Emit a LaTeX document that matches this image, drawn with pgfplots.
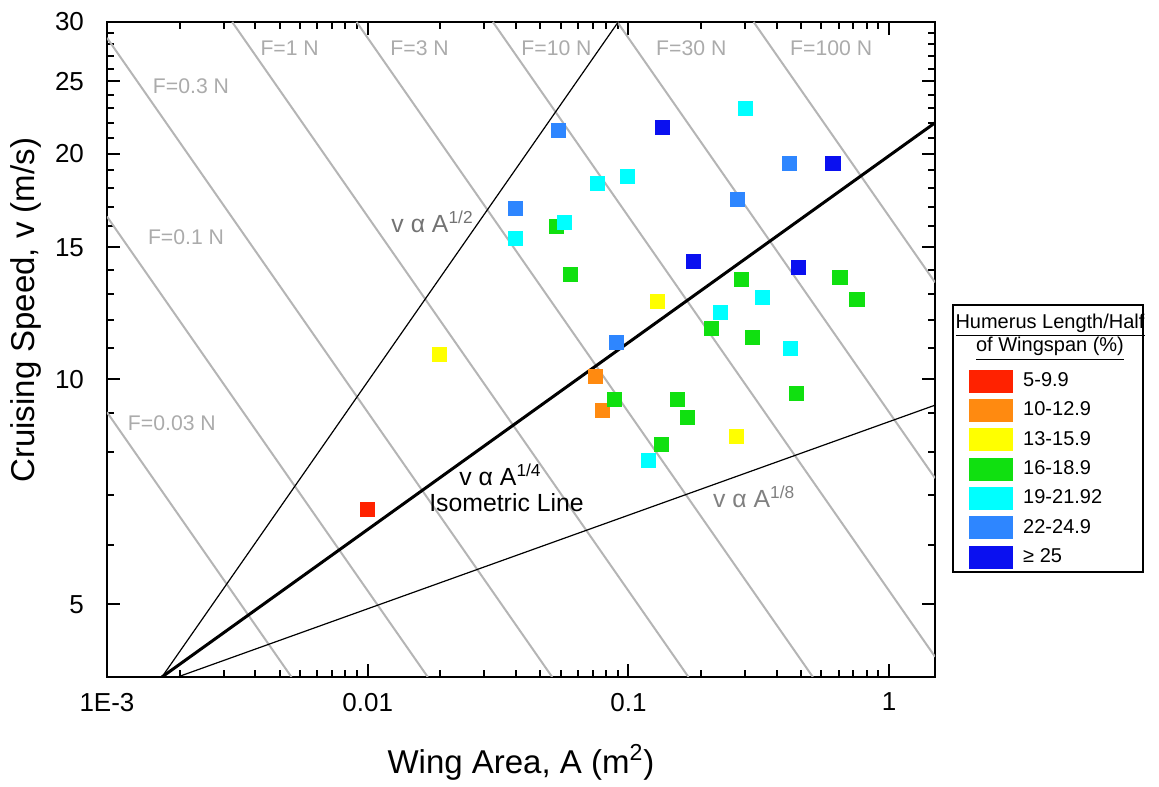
\documentclass[border=0pt]{standalone}
\usepackage{fontspec}
\setmainfont{Liberation Sans}
\usepackage{pgfplots}
\pgfplotsset{compat=1.18}
\definecolor{hred}{HTML}{FF2200}
\definecolor{horange}{HTML}{FF8A10}
\definecolor{hyellow}{HTML}{FFFF00}
\definecolor{hgreen}{HTML}{10E010}
\definecolor{hcyan}{HTML}{00FFFF}
\definecolor{hmblue}{HTML}{2E86FF}
\definecolor{hdblue}{HTML}{0A10F0}
\definecolor{fline}{HTML}{B5B5B5}
\definecolor{ftext}{HTML}{ABABAB}
\begin{document}
\begin{tikzpicture}
\begin{axis}[
  name=main,
  scale only axis, width=414pt, height=327.5pt,
  xmode=log, ymode=log,
  xmin=0.001, xmax=1.5, ymin=4, ymax=30,
  xtick={0.001,0.01,0.1,1}, xticklabels={1E-3,0.01,0.1,1},
  minor xtick={0.0019,0.0028,0.0037,0.0046,0.0055,0.0064,0.0073,0.0082,0.0091,
    0.019,0.028,0.037,0.046,0.055,0.064,0.073,0.082,0.091,
    0.19,0.28,0.37,0.46,0.55,0.64,0.73,0.82,0.91},
  ytick={5,10,15,20,25,30}, yticklabels={5,10,15,20,25,30},
  minor ytick={6,7,8,9,11,12,13,14,16,17,18,19,21,22,23,24,26,27,28,29},
  tick align=inside, major tick length=6.5pt, minor tick length=3.5pt,
  tick style={black, line width=1pt},
  axis line style={line width=1.2pt},
  ticklabel style={font=\fontsize{13}{15}\selectfont},
  xticklabel style={yshift=-4.5pt},
  yticklabel style={xshift=-8pt},
  clip mode=individual,
  legend cell align=left,
  legend image code/.code={\fill[#1] (0pt,-5.5pt) rectangle (21.5pt,5.5pt);},
  legend style={at={(1.0411,0.4748)}, anchor=north west, draw=none, fill=none,
    inner sep=0pt, row sep=0pt, column sep=0pt,
    /tikz/column 1/.style={column sep=5pt},
    font=\fontsize{10}{12}\selectfont,
    nodes={inner sep=0pt, minimum height=14.67pt}},
  sq/.style={only marks, mark=square*, mark size=3.55pt, color=#1},
]
% lines of constant force, v^2 A = 2.72 F
\addplot[fline, line width=1pt, forget plot] coordinates {(0.001,9.033)(0.0051,4)};
\addplot[fline, line width=1pt, forget plot] coordinates {(0.001,16.49)(0.017,4)};
\addplot[fline, line width=1pt, forget plot] coordinates {(0.001,28.57)(0.051,4)};
\addplot[fline, line width=1pt, forget plot] coordinates {(0.003022,30)(0.17,4)};
\addplot[fline, line width=1pt, forget plot] coordinates {(0.009067,30)(0.51,4)};
\addplot[fline, line width=1pt, forget plot] coordinates {(0.03022,30)(1.5,4.258)};
\addplot[fline, line width=1pt, forget plot] coordinates {(0.09067,30)(1.5,7.376)};
\addplot[fline, line width=1pt, forget plot] coordinates {(0.3022,30)(1.5,13.47)};
% scaling lines
\addplot[black, line width=0.6pt, forget plot] coordinates {(0.001625,4)(0.0914,30)};
\addplot[black, line width=1.5pt, forget plot] coordinates {(0.001625,4)(1.5,22.0)};
\addplot[black, line width=0.6pt, forget plot] coordinates {(0.001866,4)(1.5,9.23)};
% birds by humerus share of half wingspan
\addplot[sq=hred] coordinates {(0.01,6.70)};
\addlegendentry{5-9.9}
\addplot[sq=horange] coordinates {(0.0748,10.09)(0.0794,9.09)};
\addlegendentry{10-12.9}
\addplot[sq=hyellow] coordinates {(0.01888,10.80)(0.129,12.71)(0.2596,8.39)};
\addlegendentry{13-15.9}
\addplot[sq=hgreen] coordinates {(0.0530,16.0)(0.0600,13.81)(0.0883,9.40)(0.154,9.40)
  (0.168,8.89)(0.1336,8.18)(0.208,11.70)(0.271,13.60)(0.2985,11.38)(0.441,9.57)
  (0.648,13.68)(0.753,12.79)};
\addlegendentry{16-18.9}
\addplot[sq=hcyan] coordinates {(0.0369,15.43)(0.0569,16.2)(0.0760,18.28)(0.0991,18.67)
  (0.1194,7.79)(0.2249,12.29)(0.326,12.87)(0.418,11.0)(0.2805,23.0)};
\addlegendentry{19-21.92}
\addplot[sq=hmblue] coordinates {(0.0540,21.5)(0.0369,16.9)(0.0900,11.2)(0.262,17.4)(0.414,19.44)};
\addlegendentry{22-24.9}
\addplot[sq=hdblue] coordinates {(0.1349,21.7)(0.1774,14.38)(0.448,14.11)(0.609,19.44)};
\addlegendentry{≥ 25}
% labels
\begin{scope}[every node/.style={text=ftext, anchor=base, font=\fontsize{10.6}{12}\selectfont}]
\node at (axis cs:0.0021,24.1) {F=0.3 N};
\node at (axis cs:0.00502,27.1) {F=1 N};
\node at (axis cs:0.01582,27.1) {F=3 N};
\node at (axis cs:0.0530,27.1) {F=10 N};
\node at (axis cs:0.1743,27.1) {F=30 N};
\node at (axis cs:0.5995,27.1) {F=100 N};
\node at (axis cs:0.00201,15.15) {F=0.1 N};
\node at (axis cs:0.001774,8.55) {F=0.03 N};
\end{scope}
\node[anchor=base, text=black!55, font=\fontsize{12.4}{14}\selectfont] at (axis cs:0.01774,15.72) {v α A\textsuperscript{1/2}};
\node[anchor=base, font=\fontsize{12.4}{14}\selectfont] at (axis cs:0.03233,7.214) {v α A\textsuperscript{1/4}};
\node[anchor=base, font=\fontsize{12.4}{14}\selectfont] at (axis cs:0.03408,6.658) {Isometric Line};
\node[anchor=base, text=black!50, font=\fontsize{12.4}{14}\selectfont] at (axis cs:0.304,6.74) {v α A\textsuperscript{1/8}};
% axis titles
\node[rotate=90, font=\fontsize{16.5}{19}\selectfont] at (rel axis cs:-0.0978,0.56) {Cruising Speed, v (m/s)};
\node[anchor=base, font=\fontsize{16.5}{19}\selectfont] at (rel axis cs:0.5,-0.1466) {Wing Area, A (m\textsuperscript{2})};
% legend frame and title
\draw[line width=1pt] (rel axis cs:1.0217,0.1603) rectangle (rel axis cs:1.2512,0.5679);
\node[anchor=base, font=\fontsize{10}{12}\selectfont] at (rel axis cs:1.1389,0.5328) {\underline{Humerus Length/Half}};
\node[anchor=base, font=\fontsize{10}{12}\selectfont] at (rel axis cs:1.1389,0.4962) {\underline{of Wingspan (\%)}};
\end{axis}
\path ([shift={(-53.5pt,-53.5pt)}]main.south west) rectangle ++(579.5pt,392pt);
\end{tikzpicture}
\end{document}
